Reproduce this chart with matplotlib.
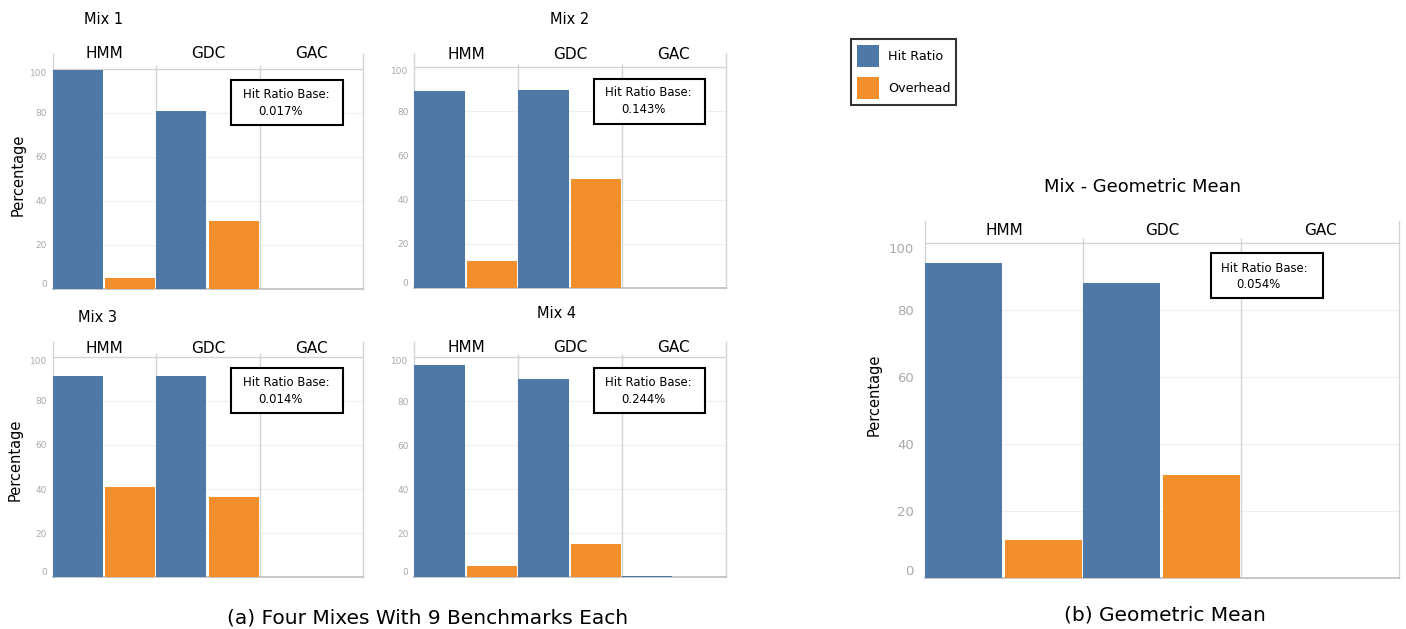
import matplotlib
matplotlib.use("Agg")
import matplotlib.pyplot as plt
from matplotlib.patches import Patch, Rectangle

plt.rcParams['font.family'] = ['DejaVu Sans']

# ---- data ----
mixes = ["Mix 1", "Mix 2", "Mix 3", "Mix 4"]
policies = ["HMM", "GDC", "GAC"]
series = ["Hit Ratio", "Overhead"]
hit_ratio_mix = [[99.3, 80.6, 0.0],
                 [89.3, 89.7, 0.0],
                 [91.2, 91.2, 0.0],
                 [96.3, 90.0, 0.8]]
overhead_mix = [[5.1, 31.0, 0.0],
                [12.2, 49.3, 0.0],
                [40.9, 36.5, 0.0],
                [5.2, 15.1, 0.0]]
hit_base_mix = ["0.017%", "0.143%", "0.014%", "0.244%"]

gm_title = "Mix - Geometric Mean"
hit_ratio_gm = [93.9, 88.0, 0.0]
overhead_gm = [11.2, 30.6, 0.0]
hit_base_gm = "0.054%"

yticks = [0, 20, 40, 60, 80, 100]

# ---- style ----
BLUE = "#4e79a7"
ORANGE = "#f28e2b"
LINE = "#d4d4d4"
GRID = "#efefef"
TICK = "#a9a9a9"
W, H = 1406, 629
YTOP = 106.7

fig = plt.figure(figsize=(W / 100, H / 100), dpi=100)


def rect(x0, x1, ytop, ybot):
    return [x0 / W, 1 - ybot / H, (x1 - x0) / W, (ybot - ytop) / H]


def panel(r, hit, over, base, head_y, tick_fs, box, t1, t2):
    ax = fig.add_axes(r)
    ax.set_xlim(0, 3)
    ax.set_ylim(0, YTOP)
    n = len(policies)
    xs = list(range(n))
    ax.bar([x + 0.245 for x in xs], hit, width=0.485, color=BLUE, zorder=3)
    ax.bar([x + 0.75 for x in xs], over, width=0.485, color=ORANGE, zorder=3)
    for y in yticks[1:-1]:
        ax.axhline(y, color=GRID, lw=0.8, zorder=0)
    ax.axhline(100, color=LINE, lw=1.0, zorder=1)
    ax.vlines([1, 2], 0, 101.5, color=LINE, lw=1.0, zorder=1)
    ax.spines["top"].set_visible(False)
    for s in ("left", "right"):
        ax.spines[s].set_color(LINE)
        ax.spines[s].set_linewidth(1.0)
    ax.spines["bottom"].set_color("#bdbdbd")
    ax.spines["bottom"].set_linewidth(1.2)
    ax.set_xticks([])
    ax.set_yticks(yticks)
    ax.set_yticklabels([str(t) for t in yticks])
    ax.tick_params(axis="y", length=0, labelsize=tick_fs, labelcolor=TICK,
                   pad=4 if tick_fs < 8 else 8)
    labs = ax.get_yticklabels()
    labs[0].set_va("bottom")
    labs[-1].set_va("top")
    for i, p in enumerate(policies):
        ax.text(i + 0.5, head_y, p, ha="center", va="center", fontsize=11,
                clip_on=False)
    bx0, bx1, by0, by1 = box
    ax.add_patch(Rectangle((bx0 * 3, by0), (bx1 - bx0) * 3, by1 - by0,
                           fill=True, facecolor="white", edgecolor="black",
                           lw=1.5, zorder=5))
    ax.text(t1[0] * 3, t1[1], "Hit Ratio Base:", fontsize=8.4, va="center",
            ha="left", zorder=6)
    ax.text(t2[0] * 3, t2[1], base, fontsize=8.4, va="center", ha="left",
            zorder=6)
    return ax


small_box = (0.576, 0.934, 74.5, 94.8)
small_t1 = (0.612, 88.4)
small_t2 = (0.664, 80.7)

panel_rects = [rect(52.5, 363, 289 - 2.205 * YTOP, 289),
               rect(414, 725.7, 288 - 2.207 * YTOP, 288),
               rect(52.5, 363, 577.3 - 2.206 * YTOP, 577.3),
               rect(414, 725.7, 577.3 - 2.203 * YTOP, 577.3)]
head_ys = [107.0, 105.6, 103.8, 104.2]

for k in range(len(mixes)):
    panel(panel_rects[k], hit_ratio_mix[k], overhead_mix[k], hit_base_mix[k],
          head_ys[k], 6.5, small_box, small_t1, small_t2)

# geometric mean panel
panel(rect(925, 1399, 577.7 - 3.347 * YTOP, 577.7), hit_ratio_gm, overhead_gm,
      hit_base_gm, 103.7, 9.5, (0.603, 0.840, 83.6, 97.0), (0.624, 92.5),
      (0.656, 87.7))

# titles
title_pos = [(104, 20), (570, 19), (97, 318), (557, 314)]
for name, (x, y) in zip(mixes, title_pos):
    fig.text(x / W, 1 - y / H, name, ha="center", va="center", fontsize=10.5)
fig.text(1143 / W, 1 - 187 / H, gm_title, ha="center", va="center",
         fontsize=12.9)

# axis labels
for x, y in [(18, 175), (15, 460), (874, 395)]:
    fig.text(x / W, 1 - y / H, "Percentage", rotation=90, ha="center",
             va="center", fontsize=10.5)

# captions
fig.text(428 / W, 1 - 618 / H, "(a) Four Mixes With 9 Benchmarks Each",
         ha="center", va="center", fontsize=14.5)
fig.text(1165 / W, 1 - 615 / H, "(b) Geometric Mean", ha="center",
         va="center", fontsize=14.5)

# legend
handles = [Patch(facecolor=BLUE), Patch(facecolor=ORANGE)]
leg = fig.legend(handles, series, loc="upper left",
                 bbox_to_anchor=(851 / W, 1 - 39 / H), frameon=True,
                 fancybox=False, edgecolor="black", fontsize=9.2,
                 handlelength=1.75, handleheight=2.3, labelspacing=0.75,
                 borderpad=0.45, handletextpad=0.7, borderaxespad=0)
leg.get_frame().set_linewidth(1.5)

fig.savefig("out.png", dpi=100)
